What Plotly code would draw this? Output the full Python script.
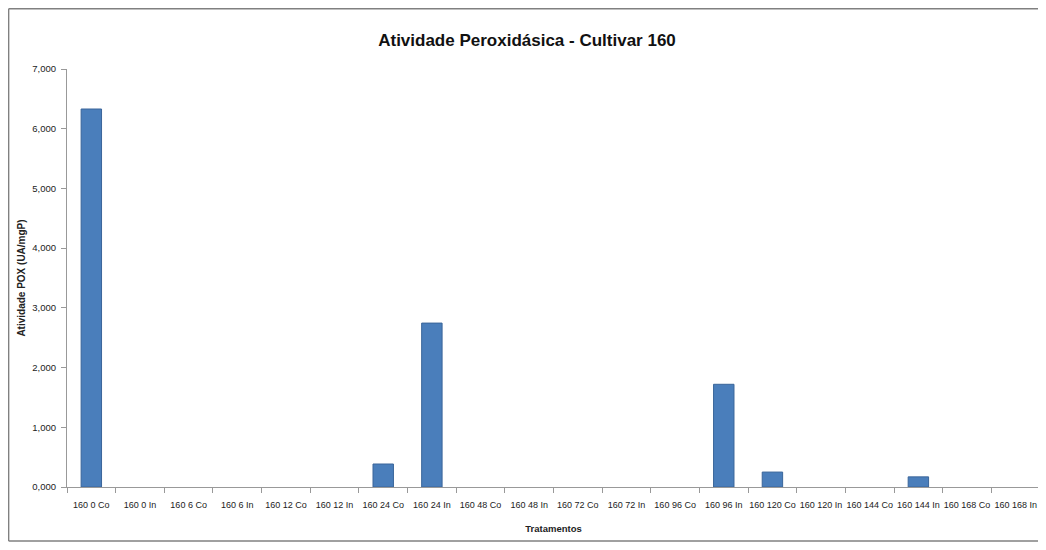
import plotly.graph_objects as go

categories = ["160 0 Co", "160 0 In", "160 6 Co", "160 6 In", "160 12 Co", "160 12 In",
              "160 24 Co", "160 24 In", "160 48 Co", "160 48 In", "160 72 Co", "160 72 In",
              "160 96 Co", "160 96 In", "160 120 Co", "160 120 In", "160 144 Co", "160 144 In",
              "160 168 Co", "160 168 In"]
values = [6.33, 0, 0, 0, 0, 0, 0.385, 2.745, 0, 0, 0, 0, 0, 1.72, 0.25, 0, 0, 0.17, 0, 0]

FONT = "Liberation Sans Narrow, Liberation Sans, Arial"

line_widths = [1 if v > 0 else 0 for v in values]

fig = go.Figure(go.Bar(
    x=categories, y=values,
    marker=dict(color="#4a7ebb", line=dict(color="#3a659a", width=line_widths)),
))

border = dict(color="#808080", width=1.5)
bx0, bx1, by0, by1 = -0.06, 1.08, -0.129, 1.144

fig.update_layout(
    width=1038, height=534,
    margin=dict(l=59, r=6, t=61, b=55, autoexpand=False),
    paper_bgcolor="white", plot_bgcolor="white",
    separators=",.",
    bargap=0.58,
    showlegend=False,
    font=dict(family=FONT, color="#222222", size=9),
    title=dict(text="<b>Atividade Peroxidásica - Cultivar 160</b>", x=0.5, xanchor="center",
               y=1 - 32 / 534, yanchor="middle", font=dict(size=17, family=FONT, color="#111111")),
    shapes=[
        dict(type="line", xref="paper", yref="paper", x0=bx0, x1=bx1, y0=by1, y1=by1, line=border, layer="below"),
        dict(type="line", xref="paper", yref="paper", x0=bx0, x1=bx0, y0=by0, y1=by1, line=border, layer="below"),
        dict(type="line", xref="paper", yref="paper", x0=bx0, x1=bx1, y0=by0, y1=by0, line=border, layer="below"),
    ],
)
fig.update_xaxes(
    type="category", tickson="boundaries", ticks="outside", ticklen=5, tickcolor="#999999",
    showline=True, linecolor="#999999", linewidth=1, showgrid=False, automargin=False,
    tickfont=dict(size=9, family=FONT), tickangle=0, ticklabelstandoff=9,
    title=dict(text="<b>Tratamentos</b>", font=dict(size=9.5, family=FONT), standoff=16),
)
fig.update_yaxes(
    range=[0, 7], dtick=1, tickformat=".3f", ticks="outside", ticklen=5, tickcolor="#999999",
    showline=True, linecolor="#999999", linewidth=1, showgrid=False, zeroline=False, automargin=False,
    tickfont=dict(size=9.5, family=FONT), ticklabelstandoff=3,
    title=dict(text="<b>Atividade POX (UA/mgP)</b>", font=dict(size=10, family=FONT), standoff=4),
)

fig.write_html("out.html")
